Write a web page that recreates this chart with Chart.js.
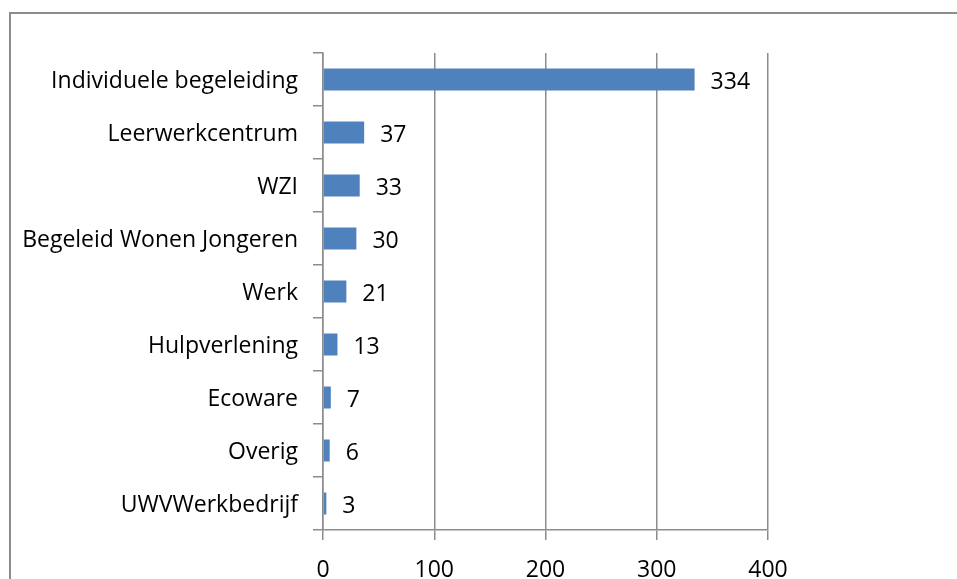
<!DOCTYPE html>
<html>
<head>
<meta charset="utf-8">
<script src="https://cdn.jsdelivr.net/npm/chart.js@4.4.0/dist/chart.umd.min.js"></script>
<style>
  html, body { margin: 0; padding: 0; background: #fff; overflow: hidden; }
  #frame { position: absolute; left: 9px; top: 12px; right: -5px; bottom: -5px;
           border-top: 2px solid #8c8c8c; border-left: 2px solid #8c8c8c; }
  #chart { position: absolute; left: 0; top: 0; }
</style>
</head>
<body>
<div id="frame"></div>
<canvas id="chart" width="957" height="600"></canvas>
<script>
const categories = [
    'Individuele begeleiding',
    'Leerwerkcentrum',
    'WZI',
    'Begeleid Wonen Jongeren',
    'Werk',
    'Hulpverlening',
    'Ecoware',
    'Overig',
    'UWVWerkbedrijf'
];
const values = [334, 37, 33, 30, 21, 13, 7, 6, 3];
const xTicks = [0, 100, 200, 300, 400];

const font = { family: "'Open Sans'", size: 23 };
const lineColor = '#8c8c8c';

// value next to each bar
const valueLabels = {
    id: 'valueLabels',
    afterDatasetsDraw(chart) {
        const ctx = chart.ctx;
        const meta = chart.getDatasetMeta(0);
        ctx.save();
        ctx.font = `${font.size}px ${font.family}`;
        ctx.fillStyle = '#000';
        ctx.textAlign = 'left';
        ctx.textBaseline = 'middle';
        meta.data.forEach((bar, i) => {
            ctx.fillText(values[i], bar.x + 16, bar.y + 3);
        });
        ctx.restore();
    }
};

const ctx = document.getElementById('chart').getContext('2d');
const chart = new Chart(ctx, {
    type: 'bar',
    data: {
        labels: categories,
        datasets: [{
            data: values,
            backgroundColor: '#4f81bd',
            barPercentage: 0.83,
            categoryPercentage: 0.5
        }]
    },
    options: {
        indexAxis: 'y',
        responsive: false,
        animation: false,
        layout: { padding: { top: 53, right: 189, left: 0, bottom: 0 } },
        plugins: { legend: { display: false }, tooltip: { enabled: false } },
        scales: {
            x: {
                min: 0,
                max: 400,
                afterBuildTicks(scale) {
                    scale.ticks = xTicks.map(v => ({ value: v }));
                },
                afterFit(scale) { scale.height = 70; },
                grid: { color: lineColor, lineWidth: 1.5, tickLength: 10 },
                border: { display: true, color: lineColor, width: 1.5 },
                ticks: { font: font, color: '#000', padding: 17 }
            },
            y: {
                afterFit(scale) { scale.width = 323; },
                grid: { drawOnChartArea: false, offset: true, color: lineColor, lineWidth: 1.5, tickLength: 10 },
                border: { display: true, color: lineColor, width: 1.5 },
                ticks: { font: font, color: '#000', padding: 15, labelOffset: 2 }
            }
        }
    },
    plugins: [valueLabels]
});
</script>
</body>
</html>
